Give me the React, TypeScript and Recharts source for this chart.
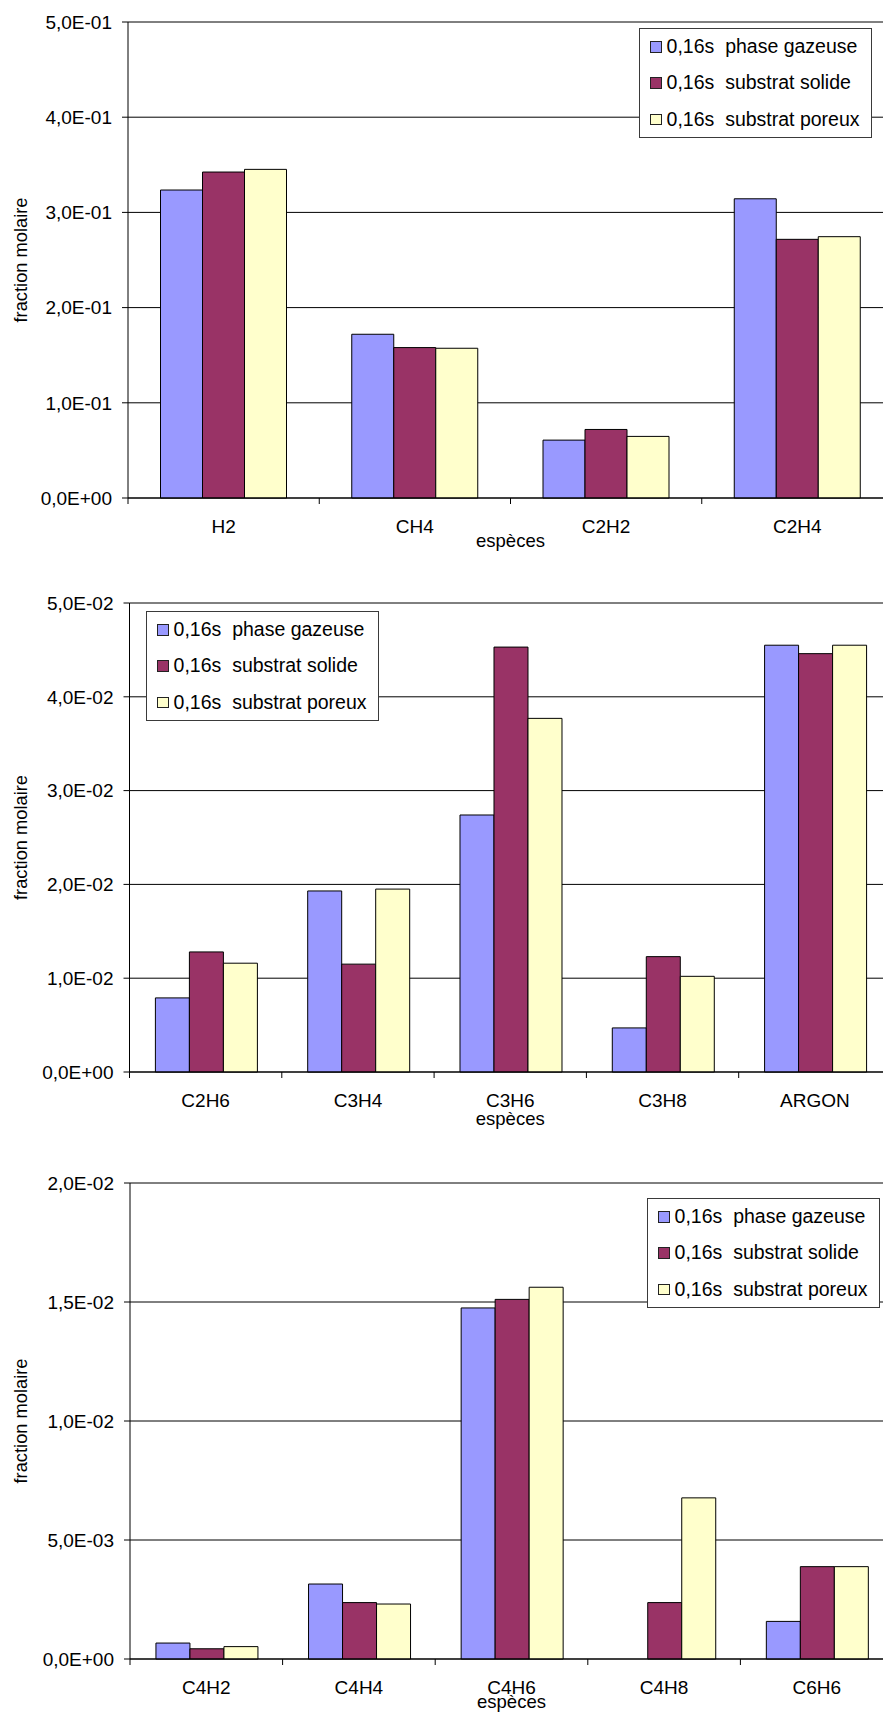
import React from 'react';
import { BarChart, Bar, XAxis, YAxis, CartesianGrid, Legend, Label } from 'recharts';

const FONT = '"Liberation Sans", Arial, Helvetica, sans-serif';

const SERIES_NAMES = ['0,16s  phase gazeuse', '0,16s  substrat solide', '0,16s  substrat poreux'];
const SERIES_COLORS = ['#9999FF', '#993366', '#FFFFCC'];

// Chart 1
const species1 = ['H2', 'CH4', 'C2H2', 'C2H4'];
const gazeuse1 = [0.3235, 0.172, 0.0608, 0.3143];
const solide1 = [0.3424, 0.158, 0.072, 0.2717];
const poreux1 = [0.3452, 0.1573, 0.0647, 0.2745];
const yTicks1 = [0, 0.1, 0.2, 0.3, 0.4, 0.5];

// Chart 2
const species2 = ['C2H6', 'C3H4', 'C3H6', 'C3H8', 'ARGON'];
const gazeuse2 = [0.0079, 0.0193, 0.0274, 0.0047, 0.0455];
const solide2 = [0.0128, 0.0115, 0.0453, 0.0123, 0.0446];
const poreux2 = [0.0116, 0.0195, 0.0377, 0.0102, 0.0455];
const yTicks2 = [0, 0.01, 0.02, 0.03, 0.04, 0.05];

// Chart 3
const species3 = ['C4H2', 'C4H4', 'C4H6', 'C4H8', 'C6H6'];
const gazeuse3 = [0.00067, 0.00315, 0.01475, 0, 0.00158];
const solide3 = [0.00043, 0.00237, 0.01511, 0.00237, 0.00388];
const poreux3 = [0.00052, 0.00231, 0.01562, 0.00677, 0.00388];
const yTicks3 = [0, 0.005, 0.01, 0.015, 0.02];

const X_TITLE = 'espèces';
const Y_TITLE = 'fraction molaire';

const sci = (v: number) => {
  if (v === 0) return '0,0E+00';
  const [m, e] = v.toExponential(1).split('e');
  const n = parseInt(e, 10);
  return m.replace('.', ',') + 'E' + (n < 0 ? '-' : '+') + String(Math.abs(n)).padStart(2, '0');
};

const CatTick = (props: any) => {
  const { x, y, payload, index, visibleTicksCount, width } = props;
  const half = payload && typeof payload.offset === 'number' && payload.offset > 0
    ? payload.offset
    : width / visibleTicksCount / 2;
  const base = y;
  return (
    <g>
      <line x1={x - half} x2={x - half} y1={base} y2={base + 6} stroke="#000" strokeWidth={1} />
      {index === visibleTicksCount - 1 ? (
        <line x1={x + half} x2={x + half} y1={base} y2={base + 6} stroke="#000" strokeWidth={1} />
      ) : null}
      <text x={x} y={base + 35} textAnchor="middle" fontSize={19} fontFamily={FONT} fill="#000">
        {payload.value}
      </text>
    </g>
  );
};

const makeXTitle = (dy: number) => (p: any) => {
  const vb = p.viewBox || { x: 0, y: 0, width: 0 };
  const cx = vb.x + vb.width / 2;
  return (
    <text x={cx} y={vb.y + dy} textAnchor="middle" fontSize={18.5} fontFamily={FONT} fill="#000">
      {X_TITLE}
    </text>
  );
};

const YTitle = (p: any) => {
  const vb = p.viewBox || { x: 0, y: 0, height: 0 };
  const cx = (vb.x || 0) + 26.5;
  const cy = (vb.y || 0) + (vb.height || 0) / 2;
  return (
    <text x={cx} y={cy} transform={`rotate(-90 ${cx} ${cy})`} textAnchor="middle" fontSize={18.3} fontFamily={FONT} fill="#000">
      {Y_TITLE}
    </text>
  );
};

const LegendBox = (props: any) => {
  const payload = [...(props.payload || [])].sort(
    (a: any, b: any) => SERIES_NAMES.indexOf(a.value) - SERIES_NAMES.indexOf(b.value)
  );
  return (
    <div
      style={{
        width: 230.6,
        height: 108.4,
        border: '1px solid #3a3a3a',
        background: '#fff',
        display: 'flex',
        flexDirection: 'column',
        fontFamily: FONT,
        fontSize: 19.5,
        color: '#000',
      }}
    >
      {payload.map((entry: any, i: number) => (
        <div key={i} style={{ display: 'flex', alignItems: 'center', height: 36.13, paddingLeft: 10 }}>
          <span
            style={{
              display: 'inline-block',
              width: 9.6,
              height: 9.6,
              background: entry.color,
              border: '1px solid #222',
              marginRight: 5,
            }}
          />
          <span style={{ whiteSpace: 'pre', lineHeight: 1 }}>{entry.value}</span>
        </div>
      ))}
    </div>
  );
};

type PanelProps = {
  species: string[];
  g: number[];
  s: number[];
  p: number[];
  ticks: number[];
  top: number;
  plotHeight: number;
  yAxisWidth: number;
  rightMargin: number;
  legendLeft: number;
  legendTop: number;
  titleDy: number;
};

const Panel = ({ species, g, s, p, ticks, top, plotHeight, yAxisWidth, rightMargin, legendLeft, legendTop, titleDy }: PanelProps) => {
  const data = species.map((name, i) => ({ name, g: g[i], s: s[i], p: p[i] }));
  const height = 22 + plotHeight + 62;
  const XTitle = makeXTitle(titleDy);
  return (
    <div style={{ position: 'absolute', left: 0, top, width: 900, height }}>
      <BarChart
        width={900}
        height={height}
        data={data}
        margin={{ top: 22, right: rightMargin, bottom: 0, left: 0 }}
        barCategoryGap="17%"
        barGap={0}
      >
        <CartesianGrid vertical={false} stroke="#000" strokeWidth={1} />
        <XAxis
          dataKey="name"
          height={62}
          interval={0}
          tickLine={false}
          tickSize={0}
          tickMargin={0}
          axisLine={{ stroke: '#000', strokeWidth: 1 }}
          tick={<CatTick />}
        >
          <Label content={<XTitle />} />
        </XAxis>
        <YAxis
          width={yAxisWidth}
          domain={[ticks[0], ticks[ticks.length - 1]]}
          ticks={ticks}
          interval={0}
          tickFormatter={sci}
          tickSize={6}
          tickMargin={10}
          tick={{ fontSize: 19, fill: '#000', fontFamily: FONT }}
          axisLine={{ stroke: '#000', strokeWidth: 1 }}
          tickLine={{ stroke: '#000', strokeWidth: 1 }}
        >
          <Label content={<YTitle />} />
        </YAxis>
        <Legend
          layout="vertical"
          align="center"
          verticalAlign="middle"
          wrapperStyle={{ left: legendLeft, top: legendTop, width: 'auto' }}
          content={<LegendBox />}
        />
        <Bar dataKey="g" name={SERIES_NAMES[0]} fill={SERIES_COLORS[0]} stroke="#000" strokeWidth={1} isAnimationActive={false} />
        <Bar dataKey="s" name={SERIES_NAMES[1]} fill={SERIES_COLORS[1]} stroke="#000" strokeWidth={1} isAnimationActive={false} />
        <Bar dataKey="p" name={SERIES_NAMES[2]} fill={SERIES_COLORS[2]} stroke="#000" strokeWidth={1} isAnimationActive={false} />
      </BarChart>
    </div>
  );
};

export default function App() {
  return (
    <div
      style={{
        position: 'absolute',
        left: 0,
        top: 0,
        width: 883,
        height: 1713,
        overflow: 'hidden',
        background: '#fff',
        fontFamily: FONT,
      }}
    >
      <Panel species={species1} g={gazeuse1} s={solide1} p={poreux1} ticks={yTicks1}
        top={0} plotHeight={476} yAxisWidth={128} rightMargin={7} legendLeft={639} legendTop={28} titleDy={49} />
      <Panel species={species2} g={gazeuse2} s={solide2} p={poreux2} ticks={yTicks2}
        top={581} plotHeight={469} yAxisWidth={129.5} rightMargin={9} legendLeft={146} legendTop={30} titleDy={53} />
      <Panel species={species3} g={gazeuse3} s={solide3} p={poreux3} ticks={yTicks3}
        top={1161} plotHeight={476} yAxisWidth={130} rightMargin={7} legendLeft={647} legendTop={37} titleDy={49} />
    </div>
  );
}
